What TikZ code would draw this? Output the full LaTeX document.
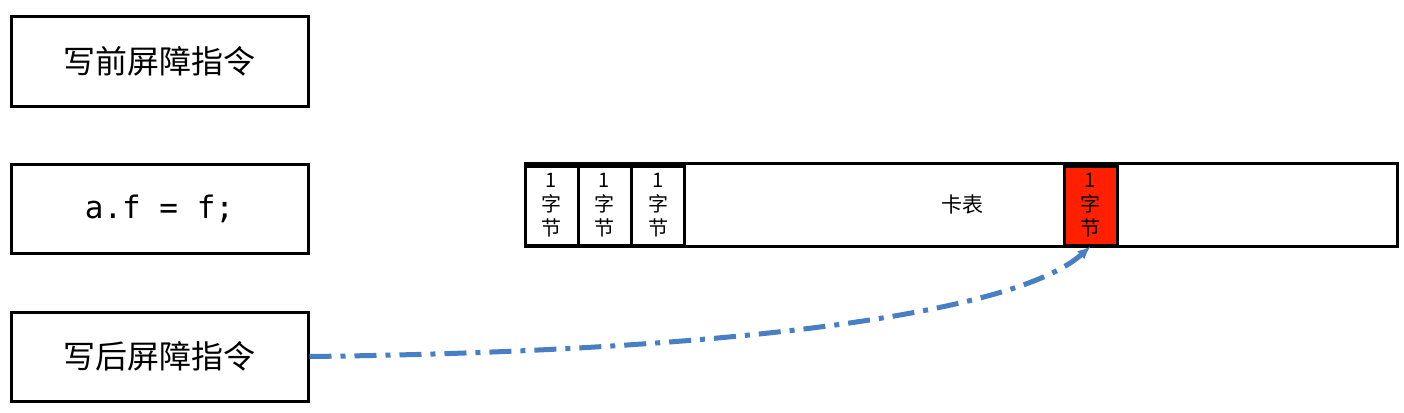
\documentclass[tikz,border=0pt]{standalone}
\usepackage{fontspec}
\setmainfont{Noto Sans CJK SC}
\setmonofont{DejaVu Sans Mono}
\usetikzlibrary{arrows.meta}
\definecolor{barrierblue}{RGB}{72,126,196}
\definecolor{dirtyred}{RGB}{255,32,0}
\tikzstyle{instr} = [rectangle, draw, line width=3pt, minimum width=297pt,
    minimum height=89pt, inner sep=0pt, font=\fontsize{32}{36}\selectfont]
\tikzstyle{cell} = [rectangle, draw, line width=3pt, minimum width=53pt,
    minimum height=79pt, inner sep=0pt, align=center,
    font=\fontsize{20}{24}\selectfont]
\tikzstyle{line} = [draw, barrierblue, line width=5pt,
    dash pattern=on 22pt off 9pt on 5pt off 9pt, -{Latex[length=13pt,width=11pt]}]
\begin{document}
\begin{tikzpicture}[x=1pt, y=-1pt]
  \useasboundingbox (0,0) rectangle (1404,412);
  \node [instr] (wbefore) at (159.5,61.5) {写前屏障指令};
  \node [instr, font=\ttfamily\fontsize{31}{36}\selectfont] (store) at (159.5,209) {a.f = f;};
  \node [instr] (wafter) at (159.5,356.5) {写后屏障指令};
  % card table
  \node [rectangle, draw, line width=3pt, minimum width=872pt, minimum height=83pt,
    inner sep=0pt] (cardtable) at (961,204.5) {};
  \node [cell] (cell1) at (551.5,205.5) {1\\字\\节};
  \node [cell] (cell2) at (604.5,205.5) {1\\字\\节};
  \node [cell] (cell3) at (658,205.5) {1\\字\\节};
  \node [cell, fill=dirtyred] (dirty) at (1090.5,205.5) {1\\字\\节};
  \node [font=\fontsize{21}{24}\selectfont] (cardlabel) at (962,205) {卡表};
  \path [line] (wafter.east) .. controls (700,352) and (1010,318) .. (dirty.south);
\end{tikzpicture}
\end{document}
